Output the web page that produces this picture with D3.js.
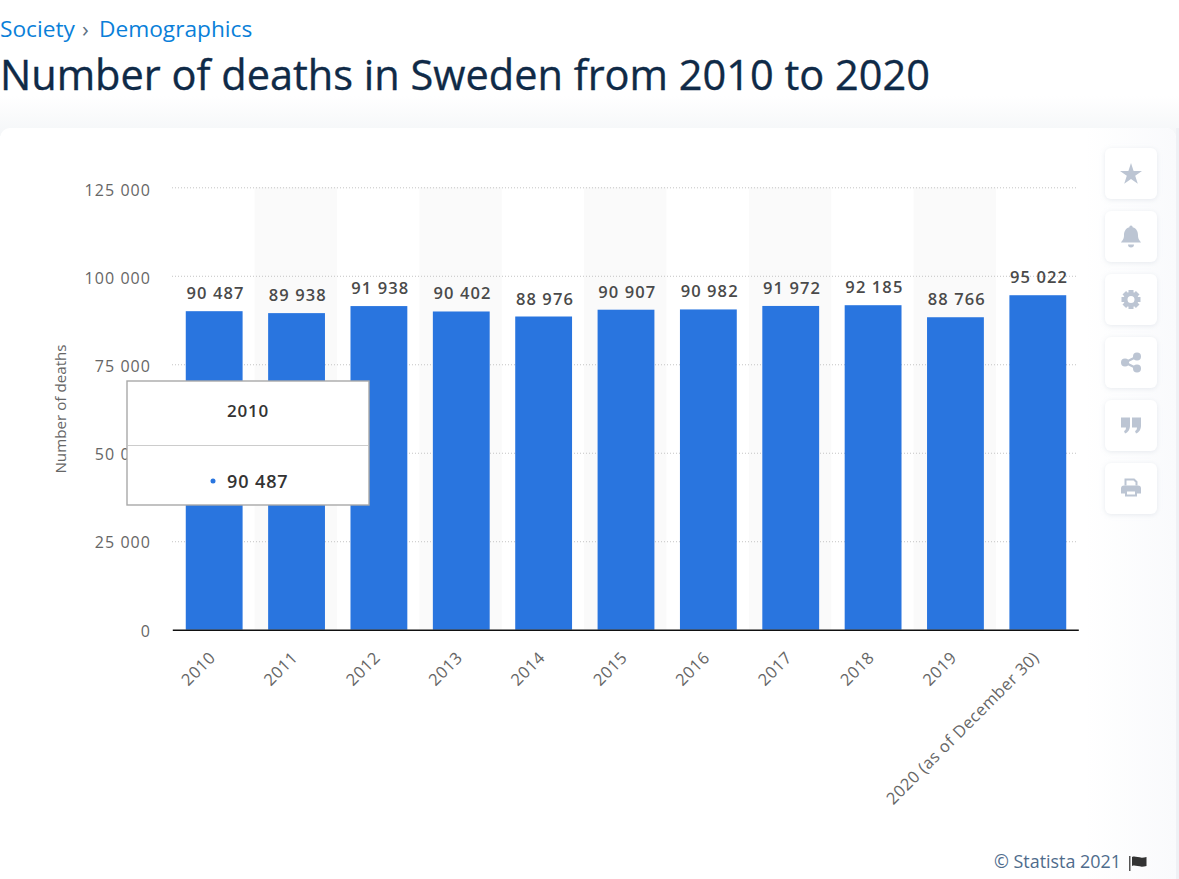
<!DOCTYPE html>
<html>
<head>
<meta charset="utf-8">
<script src="https://cdn.jsdelivr.net/npm/d3@7"></script>
<style>
  html, body { margin: 0; padding: 0; background: #fff; overflow: hidden; }
  svg { display: block; font-family: "Open Sans", sans-serif; }
</style>
</head>
<body>
<div id="chart"></div>
<script>
const categories = ['2010', '2011', '2012', '2013', '2014', '2015', '2016', '2017', '2018', '2019', '2020 (as of December 30)'];
const deaths = [90487, 89938, 91938, 90402, 88976, 90907, 90982, 91972, 92185, 88766, 95022];
const yTicks = [0, 25000, 50000, 75000, 100000, 125000];
const tooltipIndex = 0;

const BAR_COLOR = '#2975df';
const fmt = v => String(v).replace(/\B(?=(\d{3})+$)/g, ' ');

const svg = d3.select('#chart').append('svg').attr('width', 1179).attr('height', 879);
const defs = svg.append('defs');

const topFade = defs.append('linearGradient').attr('id', 'topFade').attr('x2', 0).attr('y2', 1);
topFade.append('stop').attr('offset', 0).attr('stop-color', '#fff');
topFade.append('stop').attr('offset', 1).attr('stop-color', '#f4f6f8');

const sideFade = defs.append('linearGradient').attr('id', 'sideFade');
sideFade.append('stop').attr('offset', 0).attr('stop-color', '#fff');
sideFade.append('stop').attr('offset', 1).attr('stop-color', '#f9fafc');

const softShadow = defs.append('filter').attr('id', 'softShadow')
  .attr('x', '-30%').attr('y', '-30%').attr('width', '160%').attr('height', '160%');
softShadow.append('feDropShadow').attr('dx', 0).attr('dy', 1).attr('stdDeviation', 2.5)
  .attr('flood-color', '#c5ccd8').attr('flood-opacity', 0.4);

// page header
svg.append('rect').attr('y', 96).attr('width', 1179).attr('height', 40).attr('fill', 'url(#topFade)');
svg.append('rect').attr('x', 1176).attr('y', 128).attr('width', 3).attr('height', 751).attr('fill', '#eff1f5');

const crumbs = svg.append('text').attr('y', 37).attr('font-size', 22.7).attr('fill', '#0a7fd9');
crumbs.append('tspan').attr('x', 0).text('Society');
crumbs.append('tspan').attr('x', 82).attr('fill', '#5d7183').text('›');
crumbs.append('tspan').attr('x', 99).text('Demographics');

svg.append('text').attr('x', 0).attr('y', 90).attr('font-size', 41.5).attr('font-weight', 500)
  .attr('stroke', '#0f2a47').attr('stroke-width', 0.35)
  .attr('fill', '#0f2a47').text('Number of deaths in Sweden from 2010 to 2020');

// card
svg.append('rect').attr('x', 0).attr('y', 128).attr('width', 1176).attr('height', 770).attr('rx', 10)
  .attr('fill', '#fff');
svg.append('rect').attr('x', 1085).attr('y', 128).attr('width', 91).attr('height', 770).attr('rx', 10)
  .attr('fill', 'url(#sideFade)');

// scales: the bars sit on a slightly shorter scale than the grid in the source
const x = d3.scaleBand().domain(categories).range([172.3, 1078.3]).paddingInner(0.31).paddingOuter(0.155);
const band = d3.scaleBand().domain(categories).range([172.3, 1078.3]);
const y = d3.scaleLinear().domain([0, 125000]).range([629.7, 189.7]);
const gridY = d3.scaleLinear().domain([0, 125000]).range([629.7, 187.3]);

// alternate stripes
svg.append('g').selectAll('rect')
  .data(categories.filter((c, i) => i % 2 === 1 && i < 10))
  .join('rect')
  .attr('x', c => band(c))
  .attr('y', gridY(125000))
  .attr('width', band.bandwidth())
  .attr('height', gridY(0) - gridY(125000))
  .attr('fill', '#fafafa');

// y axis
const yAxis = svg.append('g')
  .attr('transform', 'translate(172,0)')
  .call(d3.axisLeft(gridY).tickValues(yTicks).tickFormat(fmt).tickSize(0).tickPadding(21));
yAxis.select('.domain').remove();
// tick labels drift from the grid a little in the source, 2px at the bottom
yAxis.selectAll('text')
  .attr('font-family', '"Open Sans", sans-serif').attr('font-size', 16).attr('fill', '#666')
  .attr('dy', '0.52em').attr('letter-spacing', 1.05)
  .attr('transform', d => `translate(0,${-2 * (1 - d / 125000)})`);
yAxis.selectAll('.tick line')
  .filter(d => d > 0)
  .attr('x2', 906)
  .attr('stroke', '#c4c4c4')
  .attr('stroke-dasharray', '1,2');

svg.append('text')
  .attr('transform', 'translate(65.5,409) rotate(-90)')
  .attr('text-anchor', 'middle').attr('font-size', 15.2).attr('fill', '#666')
  .text('Number of deaths');

// bars
svg.append('g').selectAll('rect')
  .data(deaths)
  .join('rect')
  .attr('x', (d, i) => x(categories[i]) + 0.7)
  .attr('y', d => y(d))
  .attr('width', x.bandwidth())
  .attr('height', d => y(0) - y(d))
  .attr('fill', BAR_COLOR);

// value labels
svg.append('g').selectAll('text')
  .data(deaths)
  .join('text')
  .attr('x', (d, i) => x(categories[i]) + x.bandwidth() / 2 + 2)
  .attr('y', d => y(d) - 12)
  .attr('text-anchor', 'middle')
  .attr('font-size', 16.5).attr('font-weight', 600).attr('letter-spacing', 1.1).attr('fill', '#4a4a4a')
  .text(fmt);

// x axis
const xAxis = svg.append('g')
  .attr('transform', `translate(0,${y(0)})`)
  .call(d3.axisBottom(band).tickSize(0));
xAxis.select('.domain').attr('stroke', '#111').attr('stroke-width', 1.4);
xAxis.selectAll('.tick text')
  .attr('font-family', '"Open Sans", sans-serif').attr('font-size', 16.5).attr('letter-spacing', 0.5).attr('fill', '#666')
  .attr('text-anchor', 'end').attr('y', 0).attr('dy', 0)
  .attr('transform', 'translate(3,29) rotate(-45)');

// tooltip for the first bar
const tip = svg.append('g').attr('transform', 'translate(127,381)');
tip.append('rect').attr('width', 242).attr('height', 124).attr('fill', '#fff')
  .attr('stroke', '#a9a9a9').attr('stroke-width', 1.4);
tip.append('line').attr('x1', 1).attr('x2', 241).attr('y1', 64.5).attr('y2', 64.5).attr('stroke', '#ccc');
tip.append('text').attr('x', 121).attr('y', 36).attr('text-anchor', 'middle')
  .attr('font-size', 17).attr('font-weight', 600).attr('letter-spacing', 0.8).attr('fill', '#333')
  .text(categories[tooltipIndex]);
tip.append('circle').attr('cx', 86).attr('cy', 100).attr('r', 2.5).attr('fill', BAR_COLOR);
tip.append('text').attr('x', 100).attr('y', 107)
  .attr('font-size', 18).attr('font-weight', 600).attr('letter-spacing', 0.9).attr('fill', '#333')
  .text(fmt(deaths[tooltipIndex]));

// toolbar buttons
const ICON = '#bcc5d3';
const gearTeeth = d3.range(8).map(i => i * 45);
const buttonIcons = [
  g => g.append('path').attr('d', d3.symbol(d3.symbolStar, 150)()).attr('transform', 'translate(0,1)'),
  g => g.append('path').attr('d', 'M0,-11 a1.6,1.6 0 0 1 1.6,1.8 C6,-8 7,-4 7,-1 C7,3 9,4 10,6 L-10,6 C-9,4 -7,3 -7,-1 C-7,-4 -6,-8 -1.6,-9.2 A1.6,1.6 0 0 1 0,-11 Z M-3,8 L3,8 A3,3 0 0 1 -3,8 Z'),
  g => {
    gearTeeth.forEach(a => g.append('rect').attr('x', -2.5).attr('y', -9.5).attr('width', 5).attr('height', 5)
      .attr('transform', `rotate(${a})`));
    g.append('circle').attr('r', 5.5).attr('fill', 'none').attr('stroke', ICON).attr('stroke-width', 4);
  },
  g => {
    g.append('path').attr('d', 'M-6,0 L6,-6 M-6,0 L6,6').attr('stroke', ICON).attr('stroke-width', 2.5);
    [[-6, 0], [6, -6], [6, 6]].forEach(p => g.append('circle').attr('cx', p[0]).attr('cy', p[1]).attr('r', 4));
  },
  g => g.append('path').attr('d', 'M-10,-8 L-1,-8 L-1,0 C-1,4 -3,7 -6,8 L-7,5.5 C-5.5,5 -5,3.5 -5,2 L-10,2 Z M1,-8 L10,-8 L10,0 C10,4 8,7 5,8 L4,5.5 C5.5,5 6,3.5 6,2 L1,2 Z'),
  g => {
    g.append('path').attr('d', 'M-5.5,-3 L-5.5,-9 L3,-9 L5.5,-6.5 L5.5,-3').attr('fill', 'none').attr('stroke', ICON).attr('stroke-width', 2);
    g.append('path').attr('d', 'M-7,-3 L7,-3 A3,3 0 0 1 10,0 L10,5 L6,5 L6,8 L-6,8 L-6,5 L-10,5 L-10,0 A3,3 0 0 1 -7,-3 Z M-4,3 L-4,6 L4,6 L4,3 Z').attr('fill-rule', 'evenodd');
  }
];
const btnTop = [148, 211, 274, 337, 400, 463];
buttonIcons.forEach((draw, i) => {
  const g = svg.append('g').attr('transform', `translate(1105,${btnTop[i]})`);
  g.append('rect').attr('width', 52).attr('height', 51).attr('rx', 6).attr('fill', '#fff')
    .attr('filter', 'url(#softShadow)');
  draw(g.append('g').attr('transform', 'translate(26,25.5)').attr('fill', ICON));
});

// footer
svg.append('text').attr('x', 994).attr('y', 868).attr('font-size', 17.9).attr('fill', '#4f6c8c')
  .text('© Statista 2021');
const flag = svg.append('g').attr('transform', 'translate(1129,856)');
flag.append('rect').attr('width', 1.5).attr('height', 15).attr('fill', '#555');
flag.append('path').attr('d', 'M3,1 C7,-0.5 10,3 17.5,1 L17.5,10 C10,12 7,8.5 3,10 Z').attr('fill', '#333');
</script>
</body>
</html>
